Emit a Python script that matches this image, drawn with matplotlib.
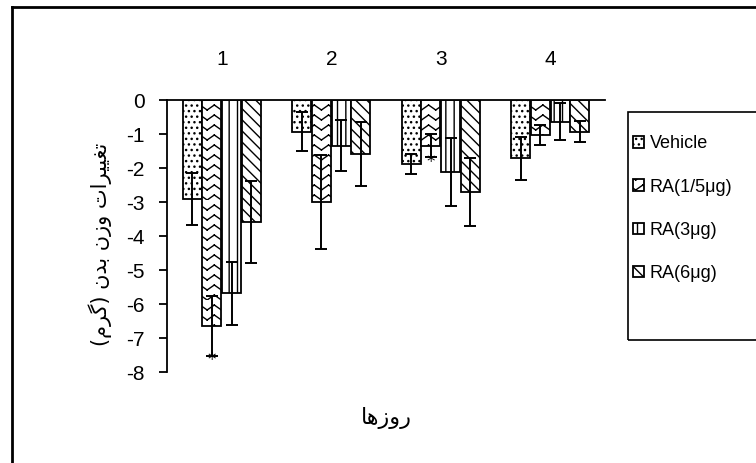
import warnings
warnings.filterwarnings('ignore')
import numpy as np
import matplotlib
matplotlib.use('Agg')
import matplotlib.pyplot as plt
import matplotlib.hatch as mhatch
from matplotlib.path import Path
from matplotlib.patches import Rectangle
from matplotlib.lines import Line2D

# ---------------- data ----------------
days = ['1', '2', '3', '4']
series_names = ['Vehicle', 'RA(1/5μg)', 'RA(3μg)', 'RA(6μg)']
vehicle = [-2.92, -0.93, -1.88, -1.72]
vehicle_err = [0.76, 0.58, 0.30, 0.64]
ra15 = [-6.65, -3.01, -1.34, -1.03]
ra15_err = [0.88, 1.38, 0.35, 0.30]
ra3 = [-5.69, -1.34, -2.11, -0.64]
ra3_err = [0.92, 0.75, 1.00, 0.54]
ra6 = [-3.58, -1.59, -2.72, -0.93]
ra6_err = [1.20, 0.93, 1.00, 0.30]
yticks = [0, -1, -2, -3, -4, -5, -6, -7, -8]
# significance markers: (day index, series index)
significant = [(0, 1), (2, 1)]

# Persian labels (presentation forms in visual order)
ylabel_fa = '(\uFEE1\uFEAE\uFB94) \uFEE5\uFEAA\uFE91 \uFEE5\uFEAF\uFEED \uFE95\uFE8D\uFEAE\uFEF4\uFEF4\uFED0\uFE97'
xlabel_fa = '\uFE8E\uFEEB\uFEAF\uFEED\uFEAD'


# ---------------- custom chevron hatch (separate segments, no fill area) ----------------
class ChevronHatch(mhatch.HatchPatternBase):
    def __init__(self, hatch, density):
        self.n = int(hatch.count('v') * density * 0.9) if hatch else 0
        self.cols = max(int(self.n * 0.75), 1) if self.n else 0
        self.segs = 2 * self.cols
        self.num_vertices = self.n * self.segs * 2

    def set_vertices_and_codes(self, vertices, codes):
        n = self.n
        xs = np.linspace(0, 1, self.segs + 1)
        amp = 0.5 / n
        up = (np.arange(self.segs + 1) % 2 == 0)
        k = 0
        for i in range(n):
            y0 = i / n
            ys = y0 + np.where(up, amp, 0.0)
            for j in range(self.segs):
                vertices[k] = (xs[j], ys[j])
                vertices[k + 1] = (xs[j + 1], ys[j + 1])
                codes[k] = Path.MOVETO
                codes[k + 1] = Path.LINETO
                k += 2


mhatch._hatch_types.append(ChevronHatch)
plt.rcParams['hatch.linewidth'] = 1.0

series_vals = [vehicle, ra15, ra3, ra6]
series_errs = [vehicle_err, ra15_err, ra3_err, ra6_err]
hatches = ['...', 'vv', '||', '\\\\\\']

fig = plt.figure(figsize=(7.56, 4.63), dpi=100)
W, H = 756, 463
ax = fig.add_axes([167 / W, 1 - 372 / H, 438 / W, 272 / H])

x = np.arange(1, len(days) + 1)
bw = 0.175
step = 0.18
for i, (vals, errs, hat, name) in enumerate(zip(series_vals, series_errs, hatches, series_names)):
    pos = x + (i - 1.5) * step
    ax.bar(pos, vals, width=bw, facecolor='white', edgecolor='black',
           linewidth=1.3, hatch=hat, label=name, zorder=2)
    ax.errorbar(pos, vals, yerr=errs, fmt='none', ecolor='black',
                elinewidth=1.4, capsize=4.5, capthick=1.4, zorder=3)

for (d, s) in significant:
    px = x[d] + (s - 1.5) * step
    py = series_vals[s][d] - series_errs[s][d]
    ax.annotate('*', (px, py), xytext=(0, -3), textcoords='offset points',
                ha='center', va='center', fontsize=12, fontfamily='DejaVu Sans')

ax.set_xlim(0.5, 4.5)
ax.set_ylim(-8, 0)
ax.set_yticks(yticks)
ax.set_yticklabels([str(v) for v in yticks], fontsize=15, fontfamily='Liberation Sans')
ax.tick_params(axis='y', length=6, width=1.3, pad=10, direction='out')
ax.xaxis.set_ticks_position('top')
ax.set_xticks(x)
ax.set_xticklabels(days, fontsize=15, fontfamily='Liberation Sans')
ax.tick_params(axis='x', length=0, pad=22)
for sp in ['right', 'bottom']:
    ax.spines[sp].set_visible(False)
ax.spines['top'].set_linewidth(1.3)
ax.spines['left'].set_linewidth(1.3)
ax.spines['top'].set_zorder(4)

ax.set_ylabel(ylabel_fa, fontsize=15, fontfamily='DejaVu Sans')
ax.yaxis.set_label_coords(-0.125, 0.47)
ax.text(0.5, -0.17, xlabel_fa, transform=ax.transAxes, ha='center', va='center',
        fontsize=16, fontfamily='DejaVu Sans')

# outer frame (left and top edges visible)
fig.add_artist(Line2D([12 / W, 12 / W], [0, 1 - 7 / H], transform=fig.transFigure,
                      color='black', linewidth=2))
fig.add_artist(Line2D([12 / W, 1], [1 - 7 / H, 1 - 7 / H], transform=fig.transFigure,
                      color='black', linewidth=2))

# legend frame
fig.add_artist(Rectangle((628 / W, 1 - 340 / H), 140 / W, 228 / H, transform=fig.transFigure,
                         facecolor='none', edgecolor='black', linewidth=1.2, clip_on=False))
handles, labels = ax.get_legend_handles_labels()
leg = fig.legend(handles, labels, loc='upper left', bbox_to_anchor=(628 / W, 1 - 130 / H),
                 frameon=False, prop={'family': 'Liberation Sans', 'size': 13},
                 handlelength=0.6, handleheight=0.6, handletextpad=0.3,
                 labelspacing=1.45, borderaxespad=0, borderpad=0.3)

fig.savefig('out.png', dpi=100)
